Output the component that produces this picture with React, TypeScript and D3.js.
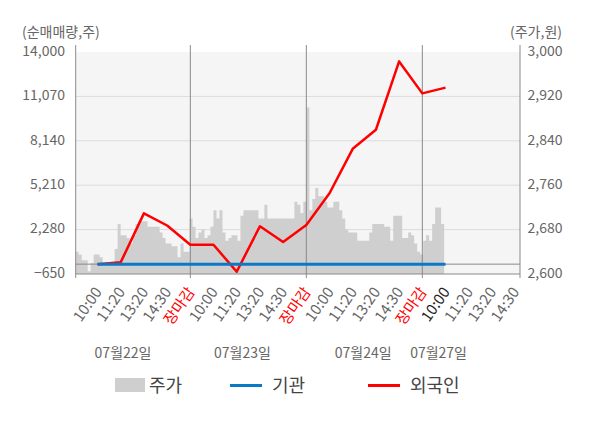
import * as d3 from "d3";

const leftTicks = [-650, 2280, 5210, 8140, 11070, 14000];
const rightTicks = [2600, 2680, 2760, 2840, 2920, 3000];

const timeLabels = [
  "10:00", "11:20", "13:20", "14:30", "장마감",
  "10:00", "11:20", "13:20", "14:30", "장마감",
  "10:00", "11:20", "13:20", "14:30", "장마감",
  "10:00", "11:20", "13:20", "14:30",
];
const closeSlots = [4, 9, 14];
const dateLabels = ["07월22일", "07월23일", "07월24일", "07월27일"];
const dateSlots = [1.1, 6.25, 11.45, 14.7];

// 외국인 / 기관 순매매량, one value per time slot
const foreignNet = [0, 120, 3350, 2550, 1280, 1280, -500, 2500, 1460, 2580, 4680, 7610, 8870, 13380, 11270, 11650];
const institutionNet = [0, 0, 0, 0, 0, 0, 0, 0, 0, 0, 0, 0, 0, 0, 0, 0];

// intraday price track, evenly spaced from open of 07/22 to now
const priceSpan = [-0.94, 14.94];
const priceTrack = [
  2640, 2635, 2625, 2625, 2605, 2620, 2635, 2635, 2630, 2620,
  2620, 2620, 2620, 2645, 2690, 2670, 2670, 2665, 2655, 2670,
  2690, 2695, 2695, 2695, 2685, 2685, 2685, 2685, 2675, 2665,
  2655, 2655, 2650, 2650, 2630, 2655, 2640, 2640, 2700, 2685,
  2665, 2675, 2680, 2665, 2670, 2685, 2715, 2700, 2715, 2675,
  2660, 2665, 2670, 2670, 2660, 2705, 2715, 2715, 2715, 2715,
  2715, 2700, 2700, 2725, 2700, 2700, 2700, 2700, 2700, 2700,
  2700, 2700, 2700, 2730, 2725, 2710, 2730, 2900, 2715, 2735,
  2755, 2740, 2740, 2730, 2720, 2720, 2730, 2730, 2715, 2700,
  2680, 2675, 2675, 2675, 2660, 2660, 2660, 2660, 2675, 2690,
  2690, 2690, 2690, 2685, 2685, 2660, 2705, 2705, 2705, 2665,
  2665, 2675, 2670, 2655, 2640, 2635, 2660, 2670, 2660, 2690,
  2720, 2720, 2690,
];

const FONT = "'Noto Sans CJK KR', 'Noto Sans', sans-serif";

export default function App() {
  const width = 600;
  const height = 428;
  const plot = { left: 75.7, right: 520, top: 52, bottom: 274 };

  const x = d3.scaleLinear().domain([-0.94, 18.21]).range([plot.left, plot.right]);
  const yL = d3.scaleLinear().domain([-650, 14000]).range([plot.bottom, plot.top]);
  const yR = d3.scaleLinear().domain([2600, 3000]).range([plot.bottom, plot.top]);

  const priceIdx = d3.scaleLinear().domain([0, priceTrack.length]).range(priceSpan);
  const pricePts = [...priceTrack, priceTrack[priceTrack.length - 1]];
  const area = d3
    .area<number>()
    .x((_, i) => x(priceIdx(i)))
    .y0(plot.bottom)
    .y1((d) => yR(d))
    .curve(d3.curveStepAfter);

  const line = d3
    .line<number>()
    .x((_, i) => x(i))
    .y((d) => yL(d));

  const lineTop = 45;
  const lineBottom = 278;

  return (
    <svg
      width={width}
      height={height}
      style={{ position: "absolute", left: 0, top: 0, background: "#fff" }}
      fontFamily={FONT}
    >
      <rect x={plot.left} y={plot.top} width={plot.right - plot.left} height={plot.bottom - plot.top} fill="#f5f5f5" />

      {leftTicks.slice(1, -1).map((t) => (
        <line key={t} x1={plot.left} x2={plot.right} y1={yL(t)} y2={yL(t)} stroke="#dcdcdc" strokeWidth={1} />
      ))}

      <path d={area(pricePts) ?? ""} fill="#cfcfcf" />

      <line x1={plot.left} x2={plot.right} y1={yL(0)} y2={yL(0)} stroke="#8a8a8a" strokeWidth={1} />

      {closeSlots.map((s) => (
        <line key={s} x1={x(s)} x2={x(s)} y1={lineTop} y2={lineBottom} stroke="#8a8a8a" strokeWidth={1} />
      ))}
      <line x1={plot.left} x2={plot.left} y1={lineTop} y2={lineBottom} stroke="#8a8a8a" strokeWidth={1} />
      <line x1={plot.right} x2={plot.right} y1={lineTop} y2={lineBottom} stroke="#8a8a8a" strokeWidth={1} />
      <line x1={plot.left} x2={plot.right} y1={plot.bottom} y2={plot.bottom} stroke="#8a8a8a" strokeWidth={1} />

      <path d={line(foreignNet) ?? ""} fill="none" stroke="#ff0000" strokeWidth={2.5} strokeLinejoin="round" />
      <path d={line(institutionNet) ?? ""} fill="none" stroke="#0a7ac8" strokeWidth={3} />

      {leftTicks.map((t) => (
        <text key={t} x={65} y={yL(t)} textAnchor="end" dominantBaseline="middle" fontSize={14} fill="#666">
          {d3.format(",")(t)}
        </text>
      ))}
      {rightTicks.map((t) => (
        <text key={t} x={527.5} y={yR(t)} textAnchor="start" dominantBaseline="middle" fontSize={14} fill="#666">
          {d3.format(",")(t)}
        </text>
      ))}

      <text x={22} y={37} fontSize={14} fill="#666">(순매매량,주)</text>
      <text x={562} y={37} fontSize={14} fill="#666" textAnchor="end">(주가,원)</text>

      {timeLabels.map((lab, i) => (
        <text
          key={i}
          transform={`translate(${x(i) + 5},${292}) rotate(-55)`}
          textAnchor="end"
          fontSize={15}
          fill={lab === "장마감" ? "#ff0000" : i === 15 ? "#222" : "#666"}
        >
          {lab}
        </text>
      ))}

      {dateLabels.map((d, i) => (
        <text key={d} x={x(dateSlots[i])} y={358} textAnchor="middle" fontSize={14} fill="#666">
          {d}
        </text>
      ))}

      <g fontSize={18} fill="#444">
        <rect x={115} y={378} width={30} height={14} fill="#cfcfcf" />
        <text x={149} y={392}>주가</text>
        <line x1={230} x2={262} y1={385.5} y2={385.5} stroke="#0a7ac8" strokeWidth={3} />
        <text x={272} y={392}>기관</text>
        <line x1={368} x2={400} y1={385.5} y2={385.5} stroke="#ff0000" strokeWidth={3} />
        <text x={410} y={392}>외국인</text>
      </g>
    </svg>
  );
}
